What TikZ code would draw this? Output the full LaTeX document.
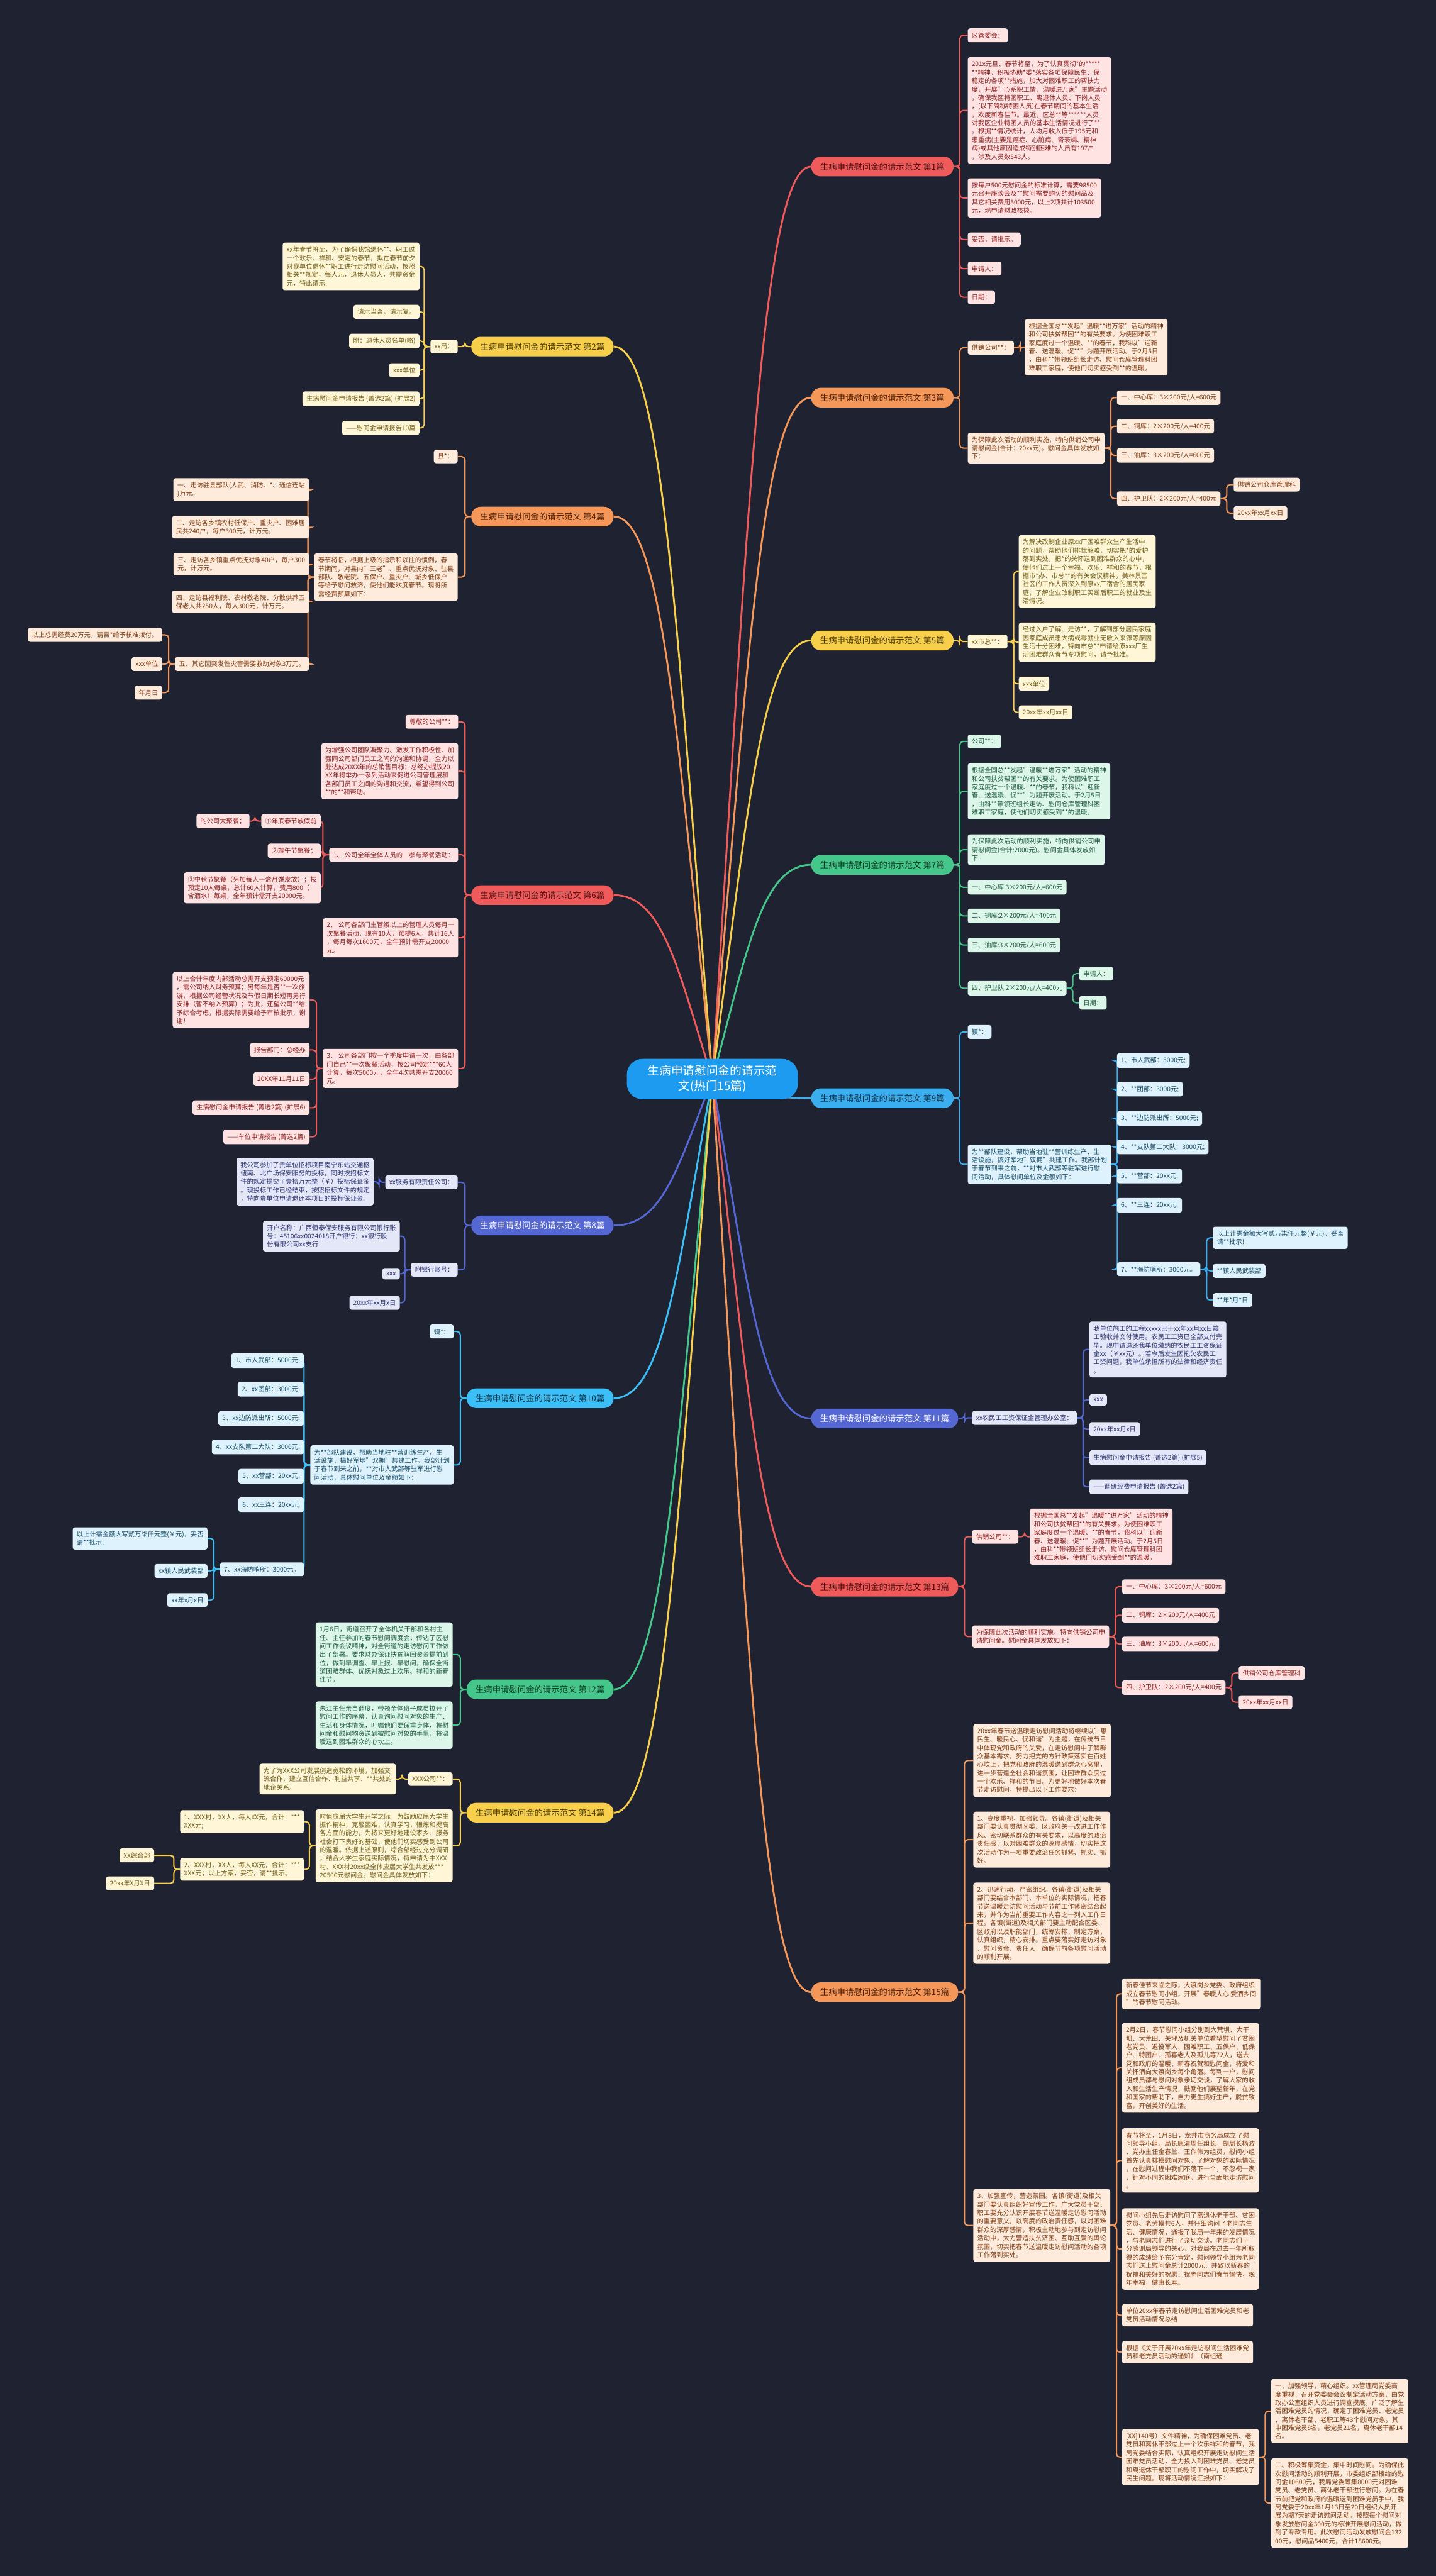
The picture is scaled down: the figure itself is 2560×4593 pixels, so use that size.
\documentclass[tikz,border=0pt]{standalone}
\usepackage{fontspec}
\setmainfont{Noto Sans CJK SC}
\usetikzlibrary{backgrounds}
\definecolor{bgc}{HTML}{1F2230}
\definecolor{cenM}{HTML}{1D9BF0}
\definecolor{redM}{HTML}{EF5B5B}\definecolor{redL}{HTML}{FFE3E3}\definecolor{redT}{HTML}{8C1D1D}\definecolor{redD}{HTML}{4A0D0D}
\definecolor{oraM}{HTML}{F6975A}\definecolor{oraL}{HTML}{FFEBDC}\definecolor{oraT}{HTML}{7D3A10}\definecolor{oraD}{HTML}{4A2008}
\definecolor{yelM}{HTML}{F7CF4B}\definecolor{yelL}{HTML}{FFF6D8}\definecolor{yelT}{HTML}{6F5B14}\definecolor{yelD}{HTML}{4A3A05}
\definecolor{grnM}{HTML}{45C68A}\definecolor{grnL}{HTML}{DDF6EA}\definecolor{grnT}{HTML}{1C5A3E}\definecolor{grnD}{HTML}{0E3A24}
\definecolor{bluM}{HTML}{3AAEEF}\definecolor{bluL}{HTML}{DDF2FC}\definecolor{bluT}{HTML}{154A66}\definecolor{bluD}{HTML}{0C2E44}
\definecolor{cyaM}{HTML}{3BBFF6}
\definecolor{indM}{HTML}{5567D3}\definecolor{indL}{HTML}{E4E7F7}\definecolor{indT}{HTML}{2A3170}
\tikzset{
  lf/.style={rounded corners=4pt, align=left, inner xsep=7pt, inner ysep=7pt, font=\fontsize{11.5}{15}\selectfont},
  mn/.style={rounded corners=17pt, minimum height=35pt, inner xsep=16pt, inner ysep=0pt, font=\fontsize{15}{18}\selectfont},
  Rl/.style={lf, fill=redL, text=redT}, Rm/.style={mn, fill=redM, text=redD},
  Ol/.style={lf, fill=oraL, text=oraT}, Om/.style={mn, fill=oraM, text=oraD},
  Yl/.style={lf, fill=yelL, text=yelT}, Ym/.style={mn, fill=yelM, text=yelD},
  Gl/.style={lf, fill=grnL, text=grnT}, Gm/.style={mn, fill=grnM, text=grnD},
  Bl/.style={lf, fill=bluL, text=bluT}, Bm/.style={mn, fill=bluM, text=bluD},
  Cm/.style={mn, fill=cyaM, text=bluD},
  Il/.style={lf, fill=indL, text=indT}, Im/.style={mn, fill=indM, text=white},
  lk/.style={line width=2.3pt, rounded corners=6pt},
  Rc/.style={lk, draw=redM}, Oc/.style={lk, draw=oraM}, Yc/.style={lk, draw=yelM},
  Gc/.style={lk, draw=grnM}, Bc/.style={lk, draw=bluM}, Cc/.style={lk, draw=cyaM}, Ic/.style={lk, draw=indM},
  ck/.style={line width=3.2pt},
  cen/.style={rounded corners=28pt, minimum width=305pt, minimum height=72pt, fill=cenM, text=white, align=center, font=\fontsize{21}{27}\selectfont}
}
\newcommand\joinR[3]{\foreach \kid in {#3}{\draw[#1] (#2.east) -- ++(11,0) |- (\kid.west);}}
\newcommand\joinL[3]{\foreach \kid in {#3}{\draw[#1] (#2.west) -- ++(-11,0) |- (\kid.east);}}
\begin{document}
\begin{tikzpicture}[x=1pt,y=-1pt]
\useasboundingbox (0,0) rectangle (2560,4593);
\begin{pgfonlayer}{background}
\fill[bgc] (0,0) rectangle (2560,4593);
\end{pgfonlayer}
\node[cen] (C) at (1270,1924) {生病申请慰问金的请示范\\文(热门15篇)};
% ---------- branch 1
\node[Rm, anchor=west] (m1) at (1446,297) {生病申请慰问金的请示范文 第1篇};
\node[Rl, anchor=west] (a1) at (1725,63) {区管委会：};
\node[Rl, anchor=west] (a2) at (1725,197) {201x元旦、春节将至，为了认真贯彻*的*****\\**精神，积极协助*委*落实各项保障民生、保\\稳定的各项**措施，加大对困难职工的帮扶力\\度，开展"心系职工情，温暖进万家"主题活动\\，确保我区特困职工、离退休人员、下岗人员\\，(以下简称特困人员)在春节期间的基本生活\\，欢度新春佳节。最近，区总**等******人员\\对我区企业特困人员的基本生活情况进行了**\\。根据**情况统计，人均月收入低于195元和\\患重病(主要是癌症、心脏病、肾衰竭、精神\\病)或其他原因造成特别困难的人员有197户\\，涉及人员数543人。};
\node[Rl, anchor=west] (a3) at (1725,353) {按每户500元慰问金的标准计算，需要98500\\元召开座谈会及**慰问需要购买的慰问品及\\其它相关费用5000元，以上2项共计103500\\元，现申请财政核拨。};
\node[Rl, anchor=west] (a4) at (1725,427) {妥否，请批示。};
\node[Rl, anchor=west] (a5) at (1725,479) {申请人：};
\node[Rl, anchor=west] (a6) at (1725,530) {日期：};
% ---------- branch 3
\node[Om, anchor=west] (m3) at (1446,709) {生病申请慰问金的请示范文 第3篇};
\node[Ol, anchor=west] (c1) at (1725,620) {供销公司**：};
\node[Ol, anchor=west] (c2) at (1827,619) {根据全国总**发起"温暖**进万家"活动的精神\\和公司扶贫帮困**的有关要求。为使困难职工\\家庭度过一个温暖、**的春节，我科以"迎新\\春、送温暖、促**"为题开展活动。于2月5日\\，由科**带领班组长走访、慰问仓库管理科困\\难职工家庭，使他们切实感受到**的温暖。};
\node[Ol, anchor=west] (c3) at (1725,799) {为保障此次活动的顺利实施，特向供销公司申\\请慰问金(合计：20xx元)。慰问金具体发放如\\下：};
\node[Ol, anchor=west] (c4) at (1991,709) {一、中心库：3×200元/人=600元};
\node[Ol, anchor=west] (c5) at (1991,760) {二、铜库：2×200元/人=400元};
\node[Ol, anchor=west] (c6) at (1991,812) {三、油库：3×200元/人=600元};
\node[Ol, anchor=west] (c7) at (1991,889) {四、护卫队：2×200元/人=400元};
\node[Ol, anchor=west] (c8) at (2199,864) {供销公司仓库管理科};
\node[Ol, anchor=west] (c9) at (2199,915) {20xx年xx月xx日};
% ---------- branch 5
\node[Ym, anchor=west] (m5) at (1446,1142) {生病申请慰问金的请示范文 第5篇};
\node[Yl, anchor=west] (e1) at (1725,1144) {xx市总**：};
\node[Yl, anchor=west] (e2) at (1816,1019) {为解决改制企业原xx厂困难群众生产生活中\\的问题，帮助他们排忧解难，切实把*的爱护\\落到实处，把*的关怀送到困难群众的心中，\\使他们过上一个幸福、欢乐、祥和的春节，根\\据市*办、市总**的有关会议精神，美林景园\\社区的工作人员深入到原xx厂宿舍的居民家\\庭，了解企业改制职工买断后职工的就业及生\\活情况。};
\node[Yl, anchor=west] (e3) at (1816,1145) {经过入户了解、走访**，了解到部分居民家庭\\因家庭成员患大病或零就业无收入来源等原因\\生活十分困难，特向市总**申请给原xxx厂生\\活困难群众春节专项慰问，请予批准。};
\node[Yl, anchor=west] (e4) at (1816,1219) {xxx单位};
\node[Yl, anchor=west] (e5) at (1816,1270) {20xx年xx月xx日};
% ---------- branch 7
\node[Gm, anchor=west] (m7) at (1446,1542) {生病申请慰问金的请示范文 第7篇};
\node[Gl, anchor=west] (g1) at (1725,1322) {公司**：};
\node[Gl, anchor=west] (g2) at (1725,1411) {根据全国总**发起"温暖**进万家"活动的精神\\和公司扶贫帮困**的有关要求。为使困难职工\\家庭度过一个温暖、**的春节，我科以"迎新\\春、送温暖、促**"为题开展活动。于2月5日\\，由科**带领班组长走访、慰问仓库管理科困\\难职工家庭，使他们切实感受到**的温暖。};
\node[Gl, anchor=west] (g3) at (1725,1515) {为保障此次活动的顺利实施，特向供销公司申\\请慰问金(合计:2000元)。慰问金具体发放如\\下:};
\node[Gl, anchor=west] (g4) at (1725,1582) {一、中心库:3×200元/人=600元};
\node[Gl, anchor=west] (g5) at (1725,1633) {二、铜库:2×200元/人=400元};
\node[Gl, anchor=west] (g6) at (1725,1685) {三、油库:3×200元/人=600元};
\node[Gl, anchor=west] (g7) at (1725,1762) {四、护卫队:2×200元/人=400元};
\node[Gl, anchor=west] (g8) at (1924,1736) {申请人：};
\node[Gl, anchor=west] (g9) at (1924,1788) {日期：};
% ---------- branch 9
\node[Bm, anchor=west] (m9) at (1446,1958) {生病申请慰问金的请示范文 第9篇};
\node[Bl, anchor=west] (h1) at (1725,1840) {镇*：};
\node[Bl, anchor=west] (h2) at (1725,2076) {为**部队建设，帮助当地驻**营训练生产、生\\活设施，搞好军地"双拥"共建工作。我部计划\\于春节到来之前，**对市人武部等驻军进行慰\\问活动，具体慰问单位及金额如下：};
\node[Bl, anchor=west] (h3) at (1991,1891) {1、市人武部：5000元;};
\node[Bl, anchor=west] (h4) at (1991,1942) {2、**团部：3000元;};
\node[Bl, anchor=west] (h5) at (1991,1994) {3、**边防派出所：5000元;};
\node[Bl, anchor=west] (h6) at (1991,2045) {4、**支队第二大队：3000元;};
\node[Bl, anchor=west] (h7) at (1991,2097) {5、**营部：20xx元;};
\node[Bl, anchor=west] (h8) at (1991,2149) {6、**三连：20xx元;};
\node[Bl, anchor=west] (h9) at (1991,2263) {7、**海防哨所：3000元。};
\node[Bl, anchor=west] (h10) at (2162,2207) {以上计需金额大写贰万柒仟元整(￥元)，妥否\\请**批示!};
\node[Bl, anchor=west] (h11) at (2162,2266) {**镇人民武装部};
\node[Bl, anchor=west] (h12) at (2162,2318) {**年*月*日};
% ---------- branch 11
\node[Im, anchor=west] (m11) at (1446,2529) {生病申请慰问金的请示范文 第11篇};
\node[Il, anchor=west] (i1) at (1733,2528) {xx农民工工资保证金管理办公室：};
\node[Il, anchor=west] (i2) at (1942,2406) {我单位施工的工程xxxxx已于xx年xx月xx日竣\\工验收并交付使用。农民工工资已全部支付完\\毕。现申请退还我单位缴纳的农民工工资保证\\金xx（￥xx元）。若今后发生因拖欠农民工\\工资问题，我单位承担所有的法律和经济责任\\。};
\node[Il, anchor=west] (i3) at (1942,2496) {xxx};
\node[Il, anchor=west] (i4) at (1942,2548) {20xx年xx月x日};
\node[Il, anchor=west] (i5) at (1942,2599) {生病慰问金申请报告 (菁选2篇) (扩展5)};
\node[Il, anchor=west] (i6) at (1942,2651) {——调研经费申请报告 (菁选2篇)};
% ---------- branch 13
\node[Rm, anchor=west] (m13) at (1446,2829) {生病申请慰问金的请示范文 第13篇};
\node[Rl, anchor=west] (j1) at (1733,2740) {供销公司**：};
\node[Rl, anchor=west] (j2) at (1836,2740) {根据全国总**发起"温暖**进万家"活动的精神\\和公司扶贫帮困**的有关要求。为使困难职工\\家庭度过一个温暖、**的春节，我科以"迎新\\春、送温暖、促**"为题开展活动。于2月5日\\，由科**带领班组长走访、慰问仓库管理科困\\难职工家庭，使他们切实感受到**的温暖。};
\node[Rl, anchor=west] (j3) at (1733,2918) {为保障此次活动的顺利实施，特向供销公司申\\请慰问金。慰问金具体发放如下：};
\node[Rl, anchor=west] (j4) at (2000,2829) {一、中心库：3×200元/人=600元};
\node[Rl, anchor=west] (j5) at (2000,2880) {二、铜库：2×200元/人=400元};
\node[Rl, anchor=west] (j6) at (2000,2931) {三、油库：3×200元/人=600元};
\node[Rl, anchor=west] (j7) at (2000,3009) {四、护卫队：2×200元/人=400元};
\node[Rl, anchor=west] (j8) at (2208,2983) {供销公司仓库管理科};
\node[Rl, anchor=west] (j9) at (2208,3035) {20xx年xx月xx日};
% ---------- branch 15
\node[Om, anchor=west] (m15) at (1446,3552) {生病申请慰问金的请示范文 第15篇};
\node[Ol, anchor=west] (k1) at (1735,3139) {20xx年春节送温暖走访慰问活动将继续以"惠\\民生、暖民心、促和谐"为主题，在传统节日\\中体现党和政府的关爱，在走访慰问中了解群\\众基本需求，努力把党的方针政策落实在百姓\\心坎上，把党和政府的温暖送到群众心窝里，\\进一步营造全社会和谐氛围，让困难群众度过\\一个欢乐、祥和的节日。为更好地做好本次春\\节走访慰问，特提出以下工作要求：};
\node[Ol, anchor=west] (k2) at (1735,3280) {1、高度重视，加强领导。各镇(街道)及相关\\部门要认真贯彻区委、区政府关于改进工作作\\风、密切联系群众的有关要求，以高度的政治\\责任感，以对困难群众的深厚感情，切实把这\\次活动作为一项重要政治任务抓紧、抓实、抓\\好。};
\node[Ol, anchor=west] (k3) at (1735,3429) {2、迅速行动，严密组织。各镇(街道)及相关\\部门要结合本部门、本单位的实际情况，把春\\节送温暖走访慰问活动与节前工作紧密结合起\\来，并作为当前重要工作内容之一列入工作日\\程。各镇(街道)及相关部门要主动配合区委、\\区政府以及职能部门，统筹安排，制定方案，\\认真组织，精心安排。重点要落实好走访对象\\、慰问资金、责任人，确保节前各项慰问活动\\的顺利开展。};
\node[Ol, anchor=west] (k4) at (1735,3968) {3、加强宣传，营造氛围。各镇(街道)及相关\\部门要认真组织好宣传工作，广大党员干部、\\职工要充分认识开展春节送温暖走访慰问活动\\的重要意义，以高度的政治责任感，以对困难\\群众的深厚感情，积极主动地参与到走访慰问\\活动中，大力营造扶贫济困、互助互爱的舆论\\氛围，切实把春节送温暖走访慰问活动的各项\\工作落到实处。};
\node[Ol, anchor=west] (k5) at (2000,3555) {新春佳节来临之际，大渡岗乡党委、政府组织\\成立春节慰问小组，开展"春暖人心 爱洒乡间\\"的春节慰问活动。};
\node[Ol, anchor=west] (k6) at (2000,3687) {2月2日，春节慰问小组分别到大荒坝、大干\\坝、大荒田、关坪及机关单位看望慰问了贫困\\老党员、退役军人、困难职工、五保户、低保\\户、特困户、孤寡老人及孤儿等72人，送去\\党和政府的温暖、新春祝贺和慰问金，将爱和\\关怀洒向大渡岗乡每个角落。每到一户，慰问\\组成员都与慰问对象亲切交谈，了解大家的收\\入和生活生产情况，鼓励他们展望新年，在党\\和国家的帮助下，自力更生搞好生产，脱贫致\\富，开创美好的生活。};
\node[Ol, anchor=west] (k7) at (2000,3852) {春节将至，1月8日，龙井市商务局成立了慰\\问领导小组，局长康清周任组长，副局长杨波\\、党办主任金春兰、王作伟为组员，慰问小组\\首先认真排摸慰问对象，了解对象的实际情况\\，在慰问过程中我们不落下一个，不忽视一家\\，针对不同的困难家庭，进行全面地走访慰问\\。};
\node[Ol, anchor=west] (k8) at (2000,4010) {慰问小组先后走访慰问了离退休老干部、贫困\\党员、老劳模共6人，并仔细询问了老同志生\\活、健康情况，通报了我局一年来的发展情况\\，与老同志们进行了亲切交谈。老同志们十\\分感谢局领导的关心，对我局在过去一年所取\\得的成绩给予充分肯定，慰问领导小组为老同\\志们送上慰问金总计2000元，并致以新春的\\祝福和美好的祝愿：祝老同志们春节愉快，晚\\年幸福，健康长寿。};
\node[Ol, anchor=west] (k9) at (2000,4128) {单位20xx年春节走访慰问生活困难党员和老\\党员活动情况总结};
\node[Ol, anchor=west] (k10) at (2000,4194) {根据《关于开展20xx年走访慰问生活困难党\\员和老党员活动的通知》（南组通};
\node[Ol, anchor=west] (k11) at (2000,4381) {[XX]140号）文件精神，为确保困难党员、老\\党员和离休干部过上一个欢乐祥和的春节，我\\局党委结合实际，认真组织开展走访慰问生活\\困难党员活动，全力投入到困难党员、老党员\\和离退休干部职工的慰问工作中，切实解决了\\民生问题。现将活动情况汇报如下：};
\node[Ol, anchor=west] (k12) at (2266,4299) {一、加强领导，精心组织。xx管理局党委高\\度重视，召开党委会会议制定活动方案，由党\\政办公室组织人员进行调查摸底，广泛了解生\\活困难党员的情况，确定了困难党员、老党员\\、离休老干部、老职工等43个慰问对象。其\\中困难党员8名，老党员21名，离休老干部14\\名。};
\node[Ol, anchor=west] (k13) at (2266,4463) {二、积极筹集资金，集中时间慰问。为确保此\\次慰问活动的顺利开展，市委组织部拨给的慰\\问金10600元，我局党委筹集8000元对困难\\党员、老党员、离休老干部进行慰问。为在春\\节前把党和政府的温暖送到困难党员手中，我\\局党委于20xx年1月13日至20日组织人员开\\展为期7天的走访慰问活动。按照每个慰问对\\象发放慰问金300元的标准开展慰问活动，做\\到了专款专用。此次慰问活动发放慰问金132\\00元，慰问品5400元，合计18600元。};
% ---------- branch 2
\node[Ym, anchor=east] (m2) at (1094,618) {生病申请慰问金的请示范文 第2篇};
\node[Yl, anchor=east] (n1) at (816,618) {xx局：};
\node[Yl, anchor=east] (n2) at (748,475) {xx年春节将至，为了确保我馆退休**、职工过\\一个欢乐、祥和、安定的春节，拟在春节前夕\\对我单位退休**职工进行走访慰问活动，按照\\相关**规定，每人元，退休人员人，共需资金\\元，特此请示.};
\node[Yl, anchor=east] (n3) at (748,556) {请示当否，请示复。};
\node[Yl, anchor=east] (n4) at (748,608) {附：退休人员名单(略)};
\node[Yl, anchor=east] (n5) at (748,660) {xxx单位};
\node[Yl, anchor=east] (n6) at (748,711) {生病慰问金申请报告 (菁选2篇) (扩展2)};
\node[Yl, anchor=east] (n7) at (748,763) {——慰问金申请报告10篇};
% ---------- branch 4
\node[Om, anchor=east] (m4) at (1094,921) {生病申请慰问金的请示范文 第4篇};
\node[Ol, anchor=east] (p1) at (816,814) {县*：};
\node[Ol, anchor=east] (p2) at (816,1029) {春节将临，根据上级的指示和以往的惯例，春\\节期间，对县内"三老"、重点优抚对象、驻县\\部队、敬老院、五保户、重灾户、城乡低保户\\等给予慰问救济，使他们能欢度春节。现将所\\需经费预算如下：};
\node[Ol, anchor=east] (p3) at (551,873) {一、走访驻县部队(人武、消防、*、通信连站\\)万元。};
\node[Ol, anchor=east] (p4) at (551,940) {二、走访各乡镇农村低保户、重灾户、困难居\\民共240户，每户300元，计万元。};
\node[Ol, anchor=east] (p5) at (551,1006) {三、走访各乡镇重点优抚对象40户，每户300\\元，计万元。};
\node[Ol, anchor=east] (p6) at (551,1073) {四、走访县福利院、农村敬老院、分散供养五\\保老人共250人，每人300元，计万元。};
\node[Ol, anchor=east] (p7) at (551,1184) {五、其它因突发性灾害需要救助对象3万元。};
\node[Ol, anchor=east] (p8) at (289,1132) {以上总需经费20万元，请县*给予核准拨付。};
\node[Ol, anchor=east] (p9) at (289,1184) {xxx单位};
\node[Ol, anchor=east] (p10) at (289,1235) {年月日};
% ---------- branch 6
\node[Rm, anchor=east] (m6) at (1094,1596) {生病申请慰问金的请示范文 第6篇};
\node[Rl, anchor=east] (q1) at (817,1287) {尊敬的公司**：};
\node[Rl, anchor=east] (q2) at (817,1375) {为增强公司团队凝聚力、激发工作积极性、加\\强同公司部门员工之间的沟通和协调，全力以\\赴达成20XX年的总销售目标；总经办提议20\\XX年将举办一系列活动来促进公司管理层和\\各部门员工之间的沟通和交流，希望得到公司\\**的**和帮助。};
\node[Rl, anchor=east] (q3) at (817,1524) {1、 公司全年全体人员的`参与聚餐活动：};
\node[Rl, anchor=east] (q4) at (817,1672) {2、 公司各部门主管级以上的管理人员每月一\\次聚餐活动，现有10人，预提6人，共计16人\\，每月每次1600元，全年预计需开支20000\\元。};
\node[Rl, anchor=east] (q5) at (817,1905) {3、 公司各部门按一个季度申请一次，由各部\\门自己**一次聚餐活动，按公司预定***60人\\计算，每次5000元，全年4次共需开支20000\\元。};
\node[Rl, anchor=east] (q6) at (572,1464) {①年底春节放假前};
\node[Rl, anchor=east] (q7) at (445,1464) {的公司大聚餐；};
\node[Rl, anchor=east] (q8) at (572,1517) {②端午节聚餐；};
\node[Rl, anchor=east] (q9) at (572,1583) {③中秋节聚餐（另加每人一盒月饼发放）；按\\预定10人每桌，总计60人计算，费用800（\\含酒水）每桌，全年预计需开支20000元。};
\node[Rl, anchor=east] (q10) at (552,1783) {以上合计年度内部活动总需开支预定60000元\\，需公司纳入财务预算；另每年是否**一次旅\\游，根据公司经营状况及节假日期长短再另行\\安排（暂不纳入预算）；为此，还望公司**给\\予综合考虑，根据实际需要给予审核批示，谢\\谢！};
\node[Rl, anchor=east] (q11) at (552,1872) {报告部门：总经办};
\node[Rl, anchor=east] (q12) at (552,1924) {20XX年11月11日};
\node[Rl, anchor=east] (q13) at (552,1975) {生病慰问金申请报告 (菁选2篇) (扩展6)};
\node[Rl, anchor=east] (q14) at (552,2027) {——车位申请报告 (菁选2篇)};
% ---------- branch 8
\node[Im, anchor=east] (m8) at (1094,2185) {生病申请慰问金的请示范文 第8篇};
\node[Il, anchor=east] (r1) at (816,2108) {xx服务有限责任公司：};
\node[Il, anchor=east] (r2) at (666,2107) {我公司参加了贵单位招标项目南宁东站交通枢\\纽南、北广场保安服务的投标，同时按招标文\\件的规定提交了壹拾万元整（￥）投标保证金\\。现投标工作已经结束，按照招标文件的规定\\，特向贵单位申请退还本项目的投标保证金。};
\node[Il, anchor=east] (r3) at (816,2264) {附银行账号：};
\node[Il, anchor=east] (r4) at (713,2204) {开户名称：广西恒泰保安服务有限公司银行账\\号：45106xx0024018开户银行：xx银行股\\份有限公司xx支行};
\node[Il, anchor=east] (r5) at (713,2271) {xxx};
\node[Il, anchor=east] (r6) at (713,2323) {20xx年xx月x日};
% ---------- branch 10
\node[Cm, anchor=east] (m10) at (1094,2493) {生病申请慰问金的请示范文 第10篇};
\node[Bl, anchor=east] (s1) at (809,2374) {镇*：};
\node[Bl, anchor=east] (s2) at (809,2612) {为**部队建设，帮助当地驻**营训练生产、生\\活设施，搞好军地"双拥"共建工作。我部计划\\于春节到来之前，**对市人武部等驻军进行慰\\问活动，具体慰问单位及金额如下：};
\node[Bl, anchor=east] (s3) at (542,2426) {1、市人武部：5000元;};
\node[Bl, anchor=east] (s4) at (542,2477) {2、xx团部：3000元;};
\node[Bl, anchor=east] (s5) at (542,2529) {3、xx边防派出所：5000元;};
\node[Bl, anchor=east] (s6) at (542,2580) {4、xx支队第二大队：3000元;};
\node[Bl, anchor=east] (s7) at (542,2632) {5、xx营部：20xx元;};
\node[Bl, anchor=east] (s8) at (542,2683) {6、xx三连：20xx元;};
\node[Bl, anchor=east] (s9) at (542,2798) {7、xx海防哨所：3000元。};
\node[Bl, anchor=east] (s10) at (370,2743) {以上计需金额大写贰万柒仟元整(￥元)，妥否\\请**批示!};
\node[Bl, anchor=east] (s11) at (370,2801) {xx镇人民武装部};
\node[Bl, anchor=east] (s12) at (370,2853) {xx年x月x日};
% ---------- branch 12
\node[Gm, anchor=east] (m12) at (1094,3012) {生病申请慰问金的请示范文 第12篇};
\node[Gl, anchor=east] (t1) at (807,2950) {1月6日，街道召开了全体机关干部和各村主\\任、主任参加的春节慰问调度会，传达了区慰\\问工作会议精神，对全街道的走访慰问工作做\\出了部署。要求财办保证扶贫解困资金提前到\\位，做到早调查、早上报、早慰问，确保全街\\道困难群体、优抚对象过上欢乐、祥和的新春\\佳节。};
\node[Gl, anchor=east] (t2) at (807,3076) {朱江主任亲自调度，带领全体班子成员拉开了\\慰问工作的序幕，认真询问慰问对象的生产、\\生活和身体情况，叮嘱他们要保重身体，将慰\\问金和慰问物资送到被慰问对象的手里，将温\\暖送到困难群众的心坎上。};
% ---------- branch 14
\node[Ym, anchor=east] (m14) at (1094,3232) {生病申请慰问金的请示范文 第14篇};
\node[Yl, anchor=east] (u1) at (807,3172) {XXX公司**：};
\node[Yl, anchor=east] (u2) at (706,3172) {为了为XXX公司发展创造宽松的环境，加强交\\流合作，建立互信合作、利益共享、**共处的\\地企关系。};
\node[Yl, anchor=east] (u3) at (807,3291) {时值应届大学生开学之际，为鼓励应届大学生\\振作精神，克服困难，认真学习，锻炼和提高\\各方面的能力，为将来更好地建设家乡、服务\\社会打下良好的基础，使他们切实感受到公司\\的温暖。依据上述原则，综合部经过充分调研\\，结合大学生家庭实际情况，特申请为中XXX\\村、XXX村20xx级全体应届大学生共发放***\\20500元慰问金。慰问金具体发放如下：};
\node[Yl, anchor=east] (u4) at (542,3248) {1、XXX村，XX人，每人XX元，合计：***\\XXX元;};
\node[Yl, anchor=east] (u5) at (542,3333) {2、XXX村，XX人，每人XX元，合计：***\\XXX元；以上方案，妥否，请**批示。};
\node[Yl, anchor=east] (u6) at (275,3308) {XX综合部};
\node[Yl, anchor=east] (u7) at (275,3358) {20xx年X月X日};
% ---------- connectors
\begin{pgfonlayer}{background}
\draw[ck, draw=redM] (C.center) .. controls (1332,948) and (1358,297) .. (m1.west);
\draw[ck, draw=oraM] (C.center) .. controls (1332,1195) and (1358,709) .. (m3.west);
\draw[ck, draw=yelM] (C.center) .. controls (1332,1455) and (1358,1142) .. (m5.west);
\draw[ck, draw=grnM] (C.center) .. controls (1332,1695) and (1358,1542) .. (m7.west);
\draw[ck, draw=bluM] (C.center) .. controls (1332,1944) and (1358,1958) .. (m9.west);
\draw[ck, draw=indM] (C.center) .. controls (1332,2287) and (1358,2529) .. (m11.west);
\draw[ck, draw=redM] (C.center) .. controls (1332,2467) and (1358,2829) .. (m13.west);
\draw[ck, draw=oraM] (C.center) .. controls (1332,2901) and (1358,3552) .. (m15.west);
\draw[ck, draw=yelM] (C.center) .. controls (1208,1140) and (1182,618) .. (m2.east);
\draw[ck, draw=oraM] (C.center) .. controls (1208,1322) and (1182,921) .. (m4.east);
\draw[ck, draw=redM] (C.center) .. controls (1208,1727) and (1182,1596) .. (m6.east);
\draw[ck, draw=indM] (C.center) .. controls (1208,2081) and (1182,2185) .. (m8.east);
\draw[ck, draw=cyaM] (C.center) .. controls (1208,2265) and (1182,2493) .. (m10.east);
\draw[ck, draw=grnM] (C.center) .. controls (1208,2577) and (1182,3012) .. (m12.east);
\draw[ck, draw=yelM] (C.center) .. controls (1208,2709) and (1182,3232) .. (m14.east);
\joinR{Rc}{m1}{a1,a2,a3,a4,a5,a6}
\joinR{Oc}{m3}{c1,c3}
\joinR{Oc}{c1}{c2}
\joinR{Oc}{c3}{c4,c5,c6,c7}
\joinR{Oc}{c7}{c8,c9}
\joinR{Yc}{m5}{e1}
\joinR{Yc}{e1}{e2,e3,e4,e5}
\joinR{Gc}{m7}{g1,g2,g3,g4,g5,g6,g7}
\joinR{Gc}{g7}{g8,g9}
\joinR{Bc}{m9}{h1,h2}
\joinR{Bc}{h2}{h3,h4,h5,h6,h7,h8,h9}
\joinR{Bc}{h9}{h10,h11,h12}
\joinR{Ic}{m11}{i1}
\joinR{Ic}{i1}{i2,i3,i4,i5,i6}
\joinR{Rc}{m13}{j1,j3}
\joinR{Rc}{j1}{j2}
\joinR{Rc}{j3}{j4,j5,j6,j7}
\joinR{Rc}{j7}{j8,j9}
\joinR{Oc}{m15}{k1,k2,k3,k4}
\joinR{Oc}{k4}{k5,k6,k7,k8,k9,k10,k11}
\joinR{Oc}{k11}{k12,k13}
\joinL{Yc}{m2}{n1}
\joinL{Yc}{n1}{n2,n3,n4,n5,n6,n7}
\joinL{Oc}{m4}{p1,p2}
\joinL{Oc}{p2}{p3,p4,p5,p6,p7}
\joinL{Oc}{p7}{p8,p9,p10}
\joinL{Rc}{m6}{q1,q2,q3,q4,q5}
\joinL{Rc}{q3}{q6,q8,q9}
\joinL{Rc}{q6}{q7}
\joinL{Rc}{q5}{q10,q11,q12,q13,q14}
\joinL{Ic}{m8}{r1,r3}
\joinL{Ic}{r1}{r2}
\joinL{Ic}{r3}{r4,r5,r6}
\joinL{Cc}{m10}{s1,s2}
\joinL{Cc}{s2}{s3,s4,s5,s6,s7,s8,s9}
\joinL{Cc}{s9}{s10,s11,s12}
\joinL{Gc}{m12}{t1,t2}
\joinL{Yc}{m14}{u1,u3}
\joinL{Yc}{u1}{u2}
\joinL{Yc}{u3}{u4,u5}
\joinL{Yc}{u5}{u6,u7}
\end{pgfonlayer}
\end{tikzpicture}
\end{document}
